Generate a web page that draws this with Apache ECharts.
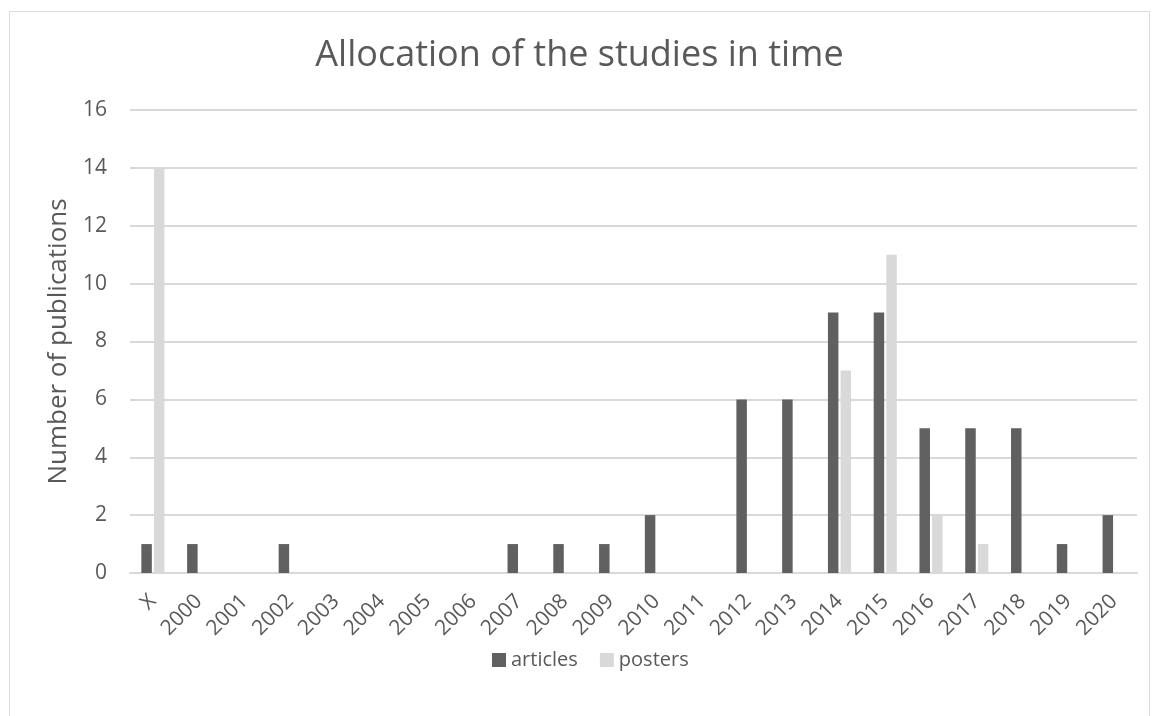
<!DOCTYPE html>
<html><head><meta charset="utf-8">
<script src="https://cdn.jsdelivr.net/npm/echarts@6/dist/echarts.min.js"></script>
<style>html,body{margin:0;padding:0;background:#fff}#c{width:1159px;height:716px}</style>
</head><body><div id="c"></div>
<script>
const categories = ['X','2000','2001','2002','2003','2004','2005','2006','2007','2008','2009','2010','2011','2012','2013','2014','2015','2016','2017','2018','2019','2020'];
const articles = [1,1,0,1,0,0,0,0,1,1,1,2,0,6,6,9,9,5,5,5,1,2];
const posters  = [14,0,0,0,0,0,0,0,0,0,0,0,0,0,0,7,11,2,1,0,0,0];
const yTicks = [0,2,4,6,8,10,12,14,16];
const FONT = '"Open Sans", sans-serif';
const chart = echarts.init(document.getElementById('c'), null, {renderer:'canvas'});
chart.setOption({
  animation:false,
  backgroundColor:'#fff',
  graphic:[{type:'rect',shape:{x:9.5,y:11.5,width:1140,height:720},style:{fill:'none',stroke:'#d9d9d9',lineWidth:1}}],
  title:{text:'Allocation of the studies in time',left:'center',top:33,textStyle:{fontFamily:FONT,fontSize:36,fontWeight:'normal',color:'#595959'}},
  legend:{data:['articles','posters'],left:487,top:645,itemWidth:14,itemHeight:14,itemGap:22,icon:'rect',textStyle:{fontFamily:FONT,fontSize:20,color:'#595959'}},
  grid:{left:130,right:22,top:110,bottom:143,containLabel:false},
  xAxis:{type:'category',data:categories,axisTick:{show:false},axisLine:{lineStyle:{color:'#d9d9d9',width:2}},
    axisLabel:{rotate:45,interval:0,fontFamily:FONT,fontSize:21,color:'#595959',margin:25}},
  yAxis:{type:'value',min:yTicks[0],max:yTicks[yTicks.length-1],interval:2,
    name:'Number of publications',nameLocation:'middle',nameGap:50,nameTextStyle:{fontFamily:FONT,fontSize:26,color:'#595959'},
    axisLine:{show:false},axisTick:{show:false},
    axisLabel:{fontFamily:FONT,fontSize:21,color:'#595959',margin:23},
    splitLine:{lineStyle:{color:'#d9d9d9',width:2}}},
  series:[
    {name:'articles',type:'bar',data:articles,barWidth:10.5,barGap:'20%',itemStyle:{color:'#606060'}},
    {name:'posters',type:'bar',data:posters,barWidth:10.5,itemStyle:{color:'#d9d9d9'}}
  ]
});
</script></body></html>
